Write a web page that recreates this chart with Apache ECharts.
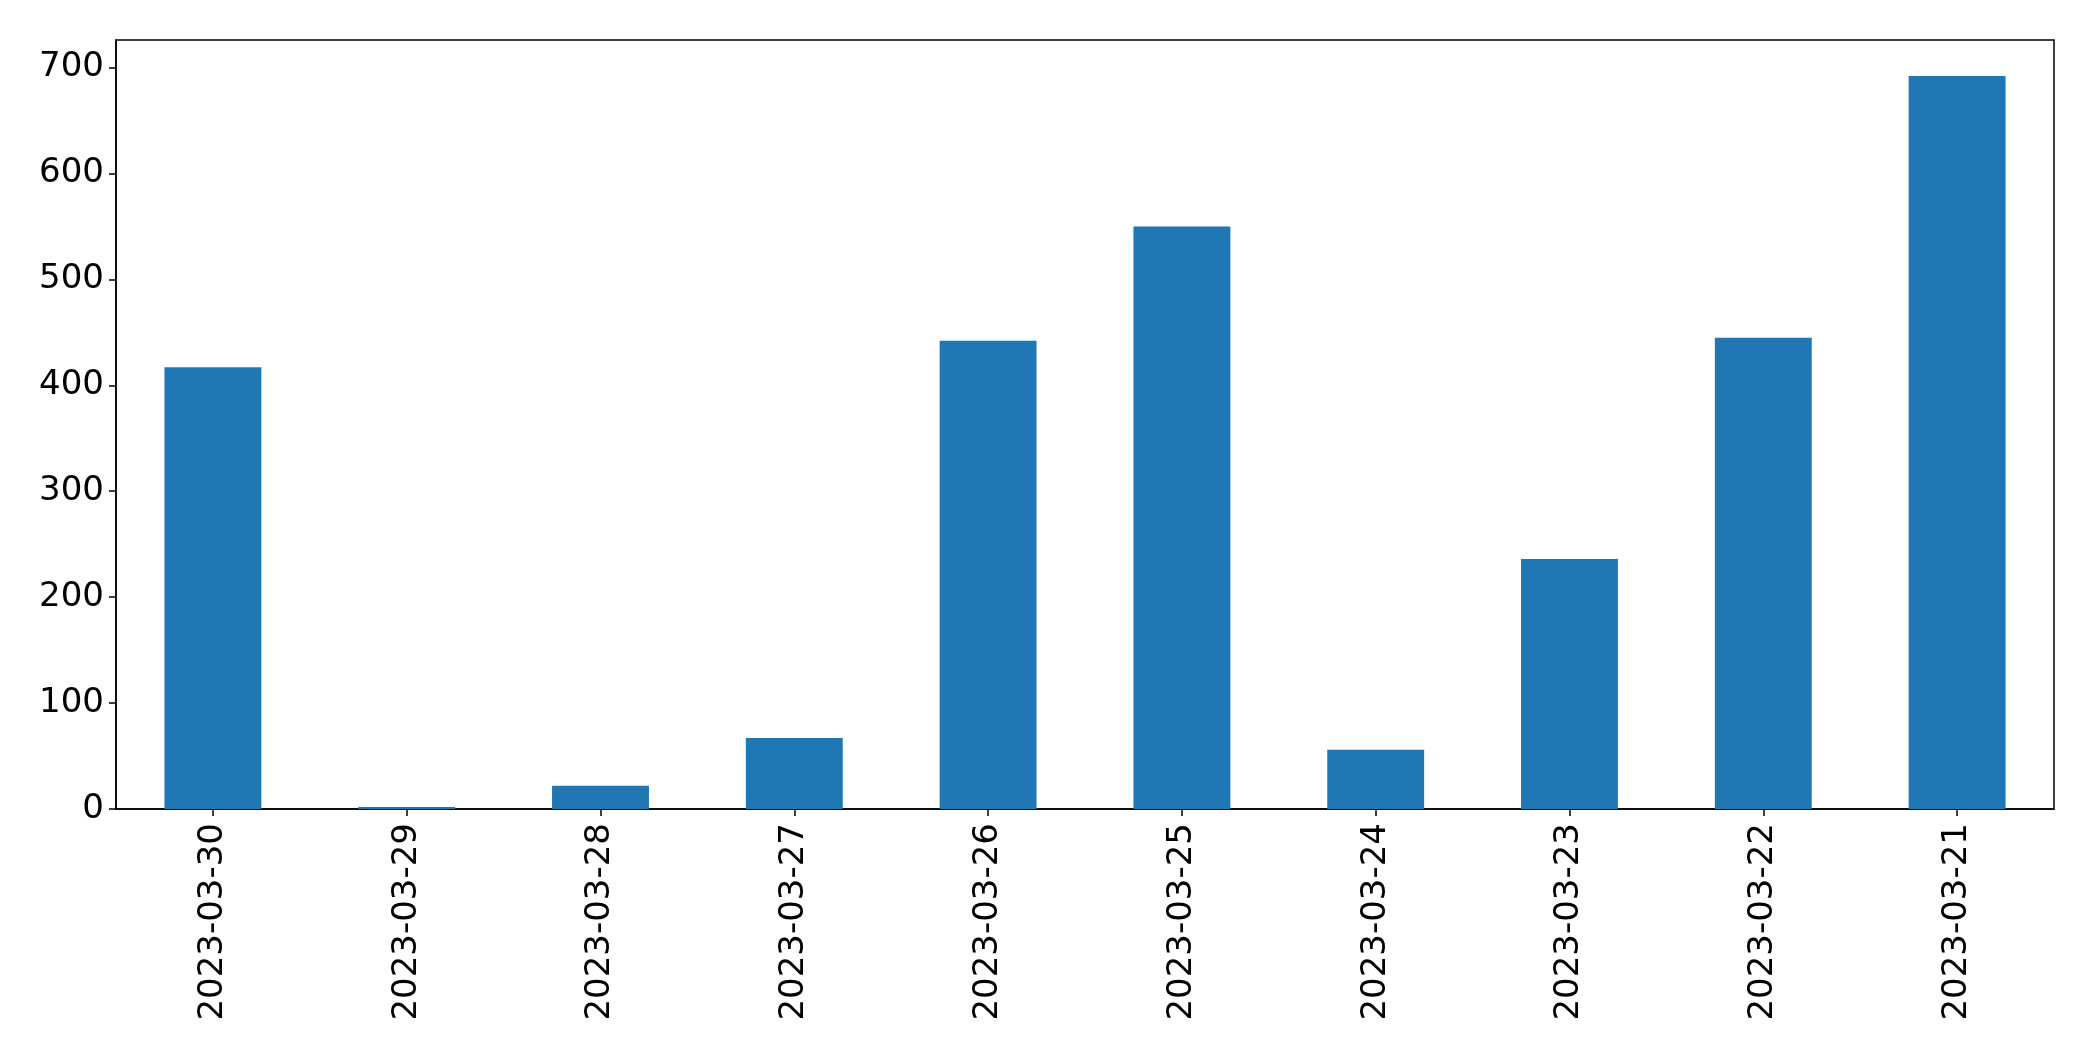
<!DOCTYPE html>
<html><head><meta charset="utf-8">
<script src="https://cdn.jsdelivr.net/npm/echarts@6/dist/echarts.min.js"></script>
<style>html,body{margin:0;padding:0;background:#fff}#c{width:2093px;height:1061px}</style>
</head><body><div id="c"></div>
<script>
const categories = ["2023-03-30","2023-03-29","2023-03-28","2023-03-27","2023-03-26","2023-03-25","2023-03-24","2023-03-23","2023-03-22","2023-03-21"];
const values = [417, 2, 22, 67, 442, 550, 56, 236, 445, 692];
const yTicks = [0, 100, 200, 300, 400, 500, 600, 700];

const chart = echarts.init(document.getElementById('c'), null, {renderer: 'canvas'});
const font = 'DejaVu Sans';
chart.setOption({
  animation: false,
  grid: {left: 116, right: 39, top: 40, bottom: 252, show: true, borderColor: '#000', borderWidth: 1.5},
  xAxis: {
    type: 'category', data: categories,
    axisLine: {show: true, lineStyle: {color: '#000', width: 1.5}},
    axisTick: {show: true, alignWithLabel: true, length: 7, lineStyle: {color: '#000', width: 1.5}},
    axisLabel: {rotate: 90, fontFamily: font, fontSize: 34, color: '#000', margin: 14}
  },
  yAxis: {
    type: 'value', min: 0, max: 726, interval: 100,
    splitLine: {show: false},
    axisLine: {show: true, lineStyle: {color: '#000', width: 1.5}},
    axisTick: {show: true, length: 7, customValues: yTicks, lineStyle: {color: '#000', width: 1.5}},
    axisLabel: {fontFamily: font, fontSize: 34, color: '#000', margin: 12, customValues: yTicks,
      formatter: v => yTicks.includes(v) ? String(v) : ''}
  },
  series: [{type: 'bar', data: values, barWidth: '50%', itemStyle: {color: '#1f77b4'}}]
});
</script></body></html>
